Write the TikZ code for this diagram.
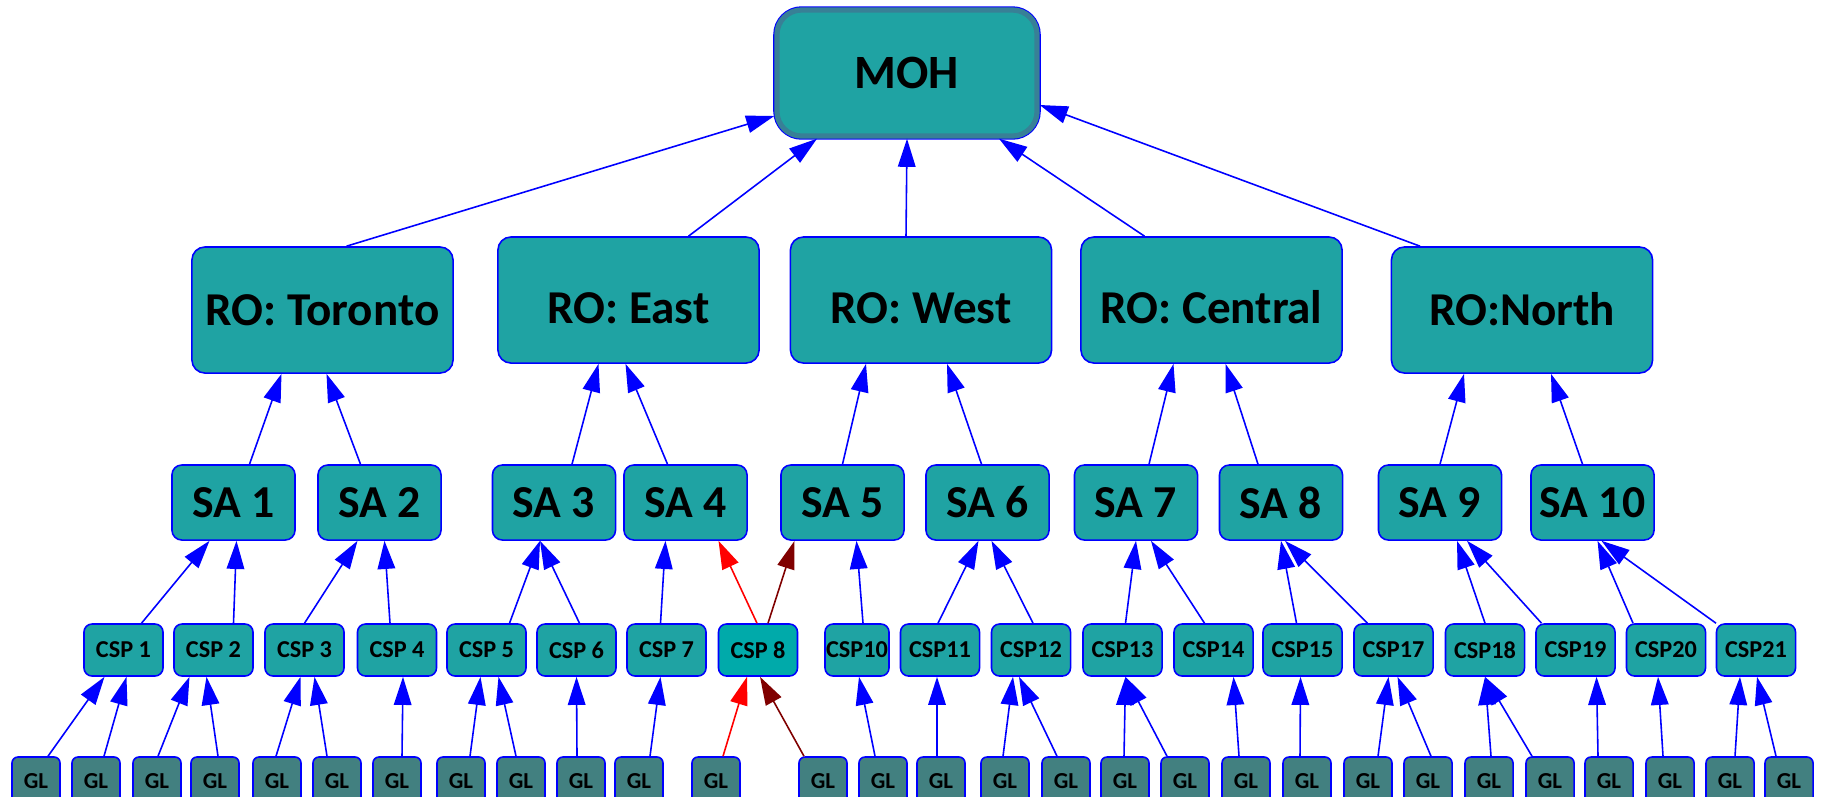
\documentclass[tikz,border=0pt]{standalone}
\usepackage{fontspec}
\setmainfont{Carlito}
\usepackage{tikz}
\usetikzlibrary{arrows.meta,calc}

\definecolor{nodeTeal}{RGB}{31,163,163}
\definecolor{leafTeal}{RGB}{66,128,128}
\definecolor{hotTeal}{RGB}{0,170,170}
\definecolor{frameBlue}{RGB}{0,0,255}
\definecolor{mohRim}{RGB}{56,128,150}
\definecolor{pathRed}{RGB}{255,0,0}
\definecolor{pathDark}{RGB}{128,0,0}

\tikzset{
  box/.style={draw=frameBlue, fill=nodeTeal, line width=0.45pt, inner sep=0pt, text=black},
  mohbox/.style={box, draw=mohRim, line width=1.5pt,
    preaction={draw=frameBlue, line width=2.1pt},
    rounded corners=7pt, minimum width=2.6cm, minimum height=1.26cm,
    font=\bfseries\fontsize{13.6}{16}\selectfont},
  robox/.style={box, rounded corners=3.7pt, minimum width=2.61cm, minimum height=1.26cm,
    text height=0.3cm, text depth=0pt, font=\bfseries\fontsize{13.4}{15}\selectfont},
  rolow/.style={robox, text height=0.46cm},
  sabox/.style={box, rounded corners=2.8pt, minimum width=1.23cm, minimum height=0.75cm,
    font=\bfseries\fontsize{13}{15}\selectfont},
  cspbox/.style={box, rounded corners=2.3pt, minimum width=0.79cm, minimum height=0.52cm,
    font=\bfseries\fontsize{6.9}{8}\selectfont},
  glbox/.style={box, fill=leafTeal, rounded corners=1.7pt, minimum width=0.48cm, minimum height=0.48cm,
    font=\bfseries\fontsize{6.5}{8}\selectfont},
  link/.style={draw=frameBlue, line width=0.45pt, -{Triangle[length=8pt,width=5pt]}},
}

\begin{document}
\begin{tikzpicture}[x=0.01cm, y=-0.01cm]
  \useasboundingbox (0,0) rectangle (1822,796);

  % top of the tree
  \node[mohbox] (moh) at (907,73) {MOH};

  % regional offices
  \node[robox] (toronto) at (322.5,310) {RO: Toronto};
  \node[rolow] (east) at (628.5,300) {RO: East};
  \node[rolow] (west) at (921,300) {RO: West};
  \node[rolow] (central) at (1211.5,300) {RO: Central};
  \node[robox] (north) at (1522,310) {RO:North};

  % service areas
  \foreach \i/\x in {1/233.5, 2/379.5, 3/554, 4/685.5, 5/842.5, 6/987.5, 7/1136, 8/1281, 9/1440, 10/1592.5}
    \node[sabox] (sa\i) at (\x,502.5) {SA \i};

  % CSP row
  \foreach \i/\x/\txt in {1/123.5/{CSP 1}, 2/213.5/{CSP 2}, 3/304.5/{CSP 3}, 4/397/{CSP 4},
      5/486.5/{CSP 5}, 6/576.5/{CSP 6}, 7/666.5/{CSP 7}, 11/940/CSP11, 12/1031/CSP12,
      13/1122.5/CSP13, 14/1213.5/CSP14, 15/1302.5/CSP15, 17/1393.5/CSP17, 18/1485/CSP18,
      19/1575.5/CSP19, 20/1666/CSP20, 21/1756/CSP21}
    \node[cspbox] (csp\i) at (\x,650) {\txt};
  \node[cspbox, fill=hotTeal] (csp8) at (758,650) {CSP 8};
  \node[cspbox, minimum width=0.64cm] (csp10) at (857,650) {CSP10};

  % GL row
  \foreach \i/\x in {1/36, 2/96, 3/157, 4/215, 5/277, 6/337, 7/397, 8/461, 9/521, 10/581,
      11/639, 12/716, 13/823, 14/883, 15/941, 16/1005, 17/1066, 18/1125, 19/1185, 20/1246,
      21/1307, 22/1368, 23/1428, 24/1489, 25/1550, 26/1609, 27/1670, 28/1730, 29/1789}
    \node[glbox] (gl\i) at (\x,781) {GL};

  % GL -> CSP
  \foreach \a/\da/\b/\db in {gl1/12/csp1/-19, gl2/8/csp1/3, gl3/1/csp2/-24, gl4/3/csp2/-7,
      gl5/-1/csp3/-4, gl6/-10/csp3/10, gl7/5/csp4/6, gl8/9/csp5/-6, gl9/-5/csp5/12,
      gl10/-4/csp6/0, gl11/11/csp7/-6, gl14/-8/csp10/2, gl15/-4/csp11/-3,
      gl16/-2/csp12/-18, gl17/-9/csp12/-12, gl18/-1/csp13/3, gl19/-18/csp13/3,
      gl20/-7/csp14/20, gl21/-7/csp15/-2, gl22/10/csp17/-5, gl23/3/csp17/4,
      gl24/2/csp18/0, gl25/-18/csp18/0, gl26/-11/csp19/21, gl27/-7/csp20/-8,
      gl28/5/csp21/-16, gl29/-13/csp21/1}
    \draw[link] ($(\a.north)+(\da,0)$) -- ($(\b.south)+(\db,0)$);

  % CSP -> SA
  \foreach \a/\da/\b/\db in {csp1/18/sa1/-24, csp2/20/sa1/3, csp3/0/sa2/-22, csp4/-7/sa2/5,
      csp5/23/sa3/-14, csp6/3/sa3/-14, csp7/-6/sa4/-20, csp10/6/sa5/14,
      csp11/-2/sa6/-9, csp12/2/sa6/4, csp13/3/sa7/0, csp14/-9/sa7/15,
      csp15/-6/sa8/0, csp17/-26/sa8/4, csp18/0/sa9/17, csp19/-34/sa9/27,
      csp20/-33/sa10/5, csp21/-40/sa10/9}
    \draw[link] ($(\a.north)+(\da,0)$) -- ($(\b.south)+(\db,0)$);

  % the highlighted path through CSP 8
  \draw[link, draw=pathRed, fill=pathRed] ($(gl12.north)+(7,0)$) -- ($(csp8.south)+(-11,0)$);
  \draw[link, draw=pathDark, fill=pathDark] ($(gl13.north)+(-19,0)$) -- ($(csp8.south)+(2,0)$);
  \draw[link, draw=pathRed, fill=pathRed] ($(csp8.north)+(-1,0)$) -- ($(sa4.south)+(33,0)$);
  \draw[link, draw=pathDark, fill=pathDark] ($(csp8.north)+(10,0)$) -- ($(sa5.south)+(-48,0)$);

  % SA -> RO
  \foreach \a/\da/\b/\db in {sa1/16/toronto/-41, sa2/-19/toronto/4, sa3/18/east/-30,
      sa4/-18/east/-3, sa5/0/west/-55, sa6/-6/west/26, sa7/13/central/-38,
      sa8/-23/central/14, sa9/0/north/-58, sa10/-10/north/29}
    \draw[link] ($(\a.north)+(\da,0)$) -- ($(\b.south)+(\db,0)$);

  % RO -> MOH
  \draw[link] ($(toronto.north)+(24,0)$) -- ($(moh.west)+(0,43)$);
  \draw[link] ($(east.north)+(60,0)$) -- ($(moh.south)+(-90,0)$);
  \draw[link] ($(west.north)+(-15,0)$) -- (moh.south);
  \draw[link] ($(central.north)+(-67,0)$) -- ($(moh.south)+(92,0)$);
  \draw[link] ($(north.north)+(-102,0)$) -- ($(moh.east)+(0,32)$);
\end{tikzpicture}
\end{document}
